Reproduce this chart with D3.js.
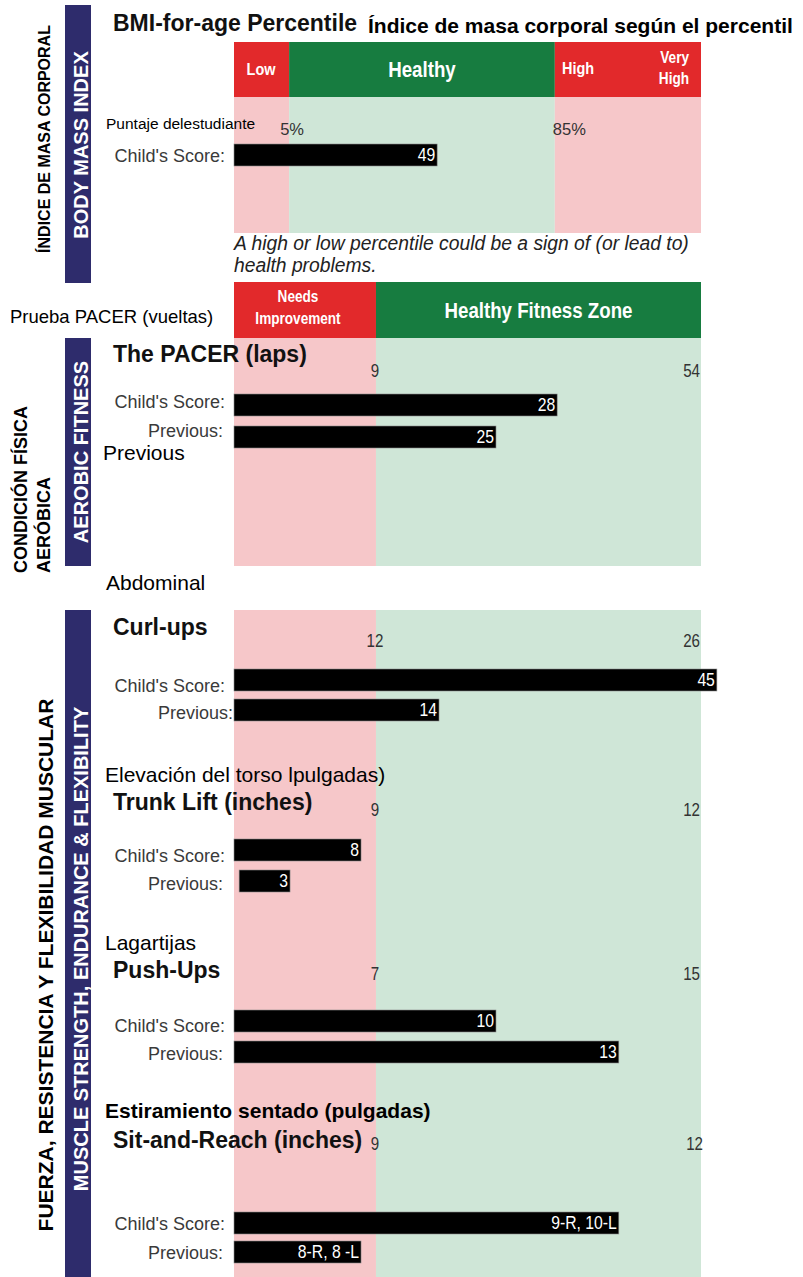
<!DOCTYPE html>
<html>
<head>
<meta charset="utf-8">
<title>Fitness report</title>
<script src="https://cdn.jsdelivr.net/npm/d3@7/dist/d3.min.js"></script>
<style>
body{margin:0;background:#fff;}
svg{display:block;font-family:"Liberation Sans",Arial,Helvetica,sans-serif;}
</style>
</head>
<body>
<script>
//BMI data
var bmiZones = ["Low", "Healthy", "High", "Very High"];
var bmiSplit = [0, 11.8, 68.7, 100];          //zone edges on the report track (0-100)
var bmiCuts = ["5%", "85%"];
var bmiScore = "49";
var bmiBar = 43.5;

//Fitness tests
var fitZones = ["Needs Improvement", "Healthy Fitness Zone"];
var fitSplit = [0, 30.4, 100];
var tests = ["The PACER (laps)", "Curl-ups", "Trunk Lift (inches)", "Push-Ups", "Sit-and-Reach (inches)"];
var testsEs = ["Prueba PACER (vueltas)", "Abdominal", "Elevación del torso lpulgadas)", "Lagartijas", "Estiramiento sentado (pulgadas)"];
var lowCut = ["9", "12", "9", "7", "9"];
var highCut = ["54", "26", "12", "15", "12"];
var childScore = ["28", "45", "8", "10", "9-R, 10-L"];
var prevScore = ["25", "14", "3", "13", "8-R, 8 -L"];
//bar extents as drawn on the track
var childBar = [69.2, 103.4, 27.2, 56.1, 82.4];
var prevFrom = [0, 0, 1.1, 0, 0];
var prevBar = [56.1, 43.9, 12.0, 82.4, 27.2];

var red = "#e2292b", green = "#177c40", pink = "#f6c7c9", mint = "#cfe6d7", navy = "#2e2c6c";

var svg = d3.select("body").append("svg")
    .attr("width", 803)
    .attr("height", 1277);

//report track scale
var x = d3.scaleLinear().domain([0, 100]).range([234, 701]);

//helpers
function vtext(px, py, txt, size, fill, anchor) {
  return svg.append("text")
    .attr("transform", "translate(" + px + "," + py + ") rotate(-90)")
    .attr("text-anchor", anchor)
    .attr("font-size", size)
    .attr("font-weight", "bold")
    .attr("fill", fill)
    .text(txt);
}
function narrow(px, py, txt, size, anchor, fill, weight, sx) {
  svg.append("text")
    .attr("transform", "translate(" + px + "," + py + ") scale(" + (sx || 0.85) + ",1)")
    .attr("text-anchor", anchor)
    .attr("font-size", size)
    .attr("font-weight", weight || "bold")
    .attr("fill", fill || "#fff")
    .text(txt);
}
function plain(px, py, txt, size, opts) {
  opts = opts || {};
  return svg.append("text")
    .attr("x", px).attr("y", py)
    .attr("font-size", size)
    .attr("font-weight", opts.bold ? "bold" : "normal")
    .attr("font-style", opts.italic ? "italic" : "normal")
    .attr("text-anchor", opts.anchor || "start")
    .attr("fill", opts.fill || "#000")
    .text(txt);
}
function zoneBands(split, colors, y0, y1) {
  svg.append("g").selectAll("rect")
    .data(d3.pairs(split))
    .enter().append("rect")
      .attr("x", function(d) { return x(d[0]); })
      .attr("width", function(d) { return x(d[1]) - x(d[0]); })
      .attr("y", y0)
      .attr("height", y1 - y0)
      .style("fill", function(d, i) { return colors[i]; });
}
function bar(from, to, top, label) {
  svg.append("rect")
    .attr("x", x(from)).attr("y", top)
    .attr("width", x(to) - x(from)).attr("height", 22)
    .style("fill", "#000").style("stroke", "#8a8a8a").style("stroke-width", 0.6);
  narrow(x(to) - 2, top + 17, label, 17.5, "end", "#fff", "normal", 0.9);
}

//Navy side bars
[[5, 283], [338, 566], [610, 1277]].forEach(function(b) {
  svg.append("rect").attr("x", 65).attr("y", b[0]).attr("width", 26).attr("height", b[1] - b[0])
    .style("fill", navy);
});
vtext(88, 145, "BODY MASS INDEX", 20, "#fff", "middle");
vtext(88, 452, "AEROBIC FITNESS", 20, "#fff", "middle");
vtext(88, 949, "MUSCLE STRENGTH, ENDURANCE & FLEXIBILITY", 20, "#fff", "middle");
vtext(50, 139, "ÍNDICE DE MASA CORPORAL", 16, "#000", "middle");
vtext(27, 573, "CONDICIÓN FÍSICA", 18, "#000", "start");
vtext(50, 573, "AERÓBICA", 18, "#000", "start");
vtext(53, 965, "FUERZA, RESISTENCIA Y FLEXIBILIDAD MUSCULAR", 21, "#000", "middle");

//---- BMI block ----
plain(113, 31, "BMI-for-age Percentile", 23, {bold: true, fill: "#111"});
plain(368, 33, "Índice de masa corporal según el percentil", 21, {bold: true});
zoneBands(bmiSplit, [red, green, red], 42, 97);
zoneBands(bmiSplit, [pink, mint, pink], 97, 233);
narrow(261, 75, bmiZones[0], 17, "middle");
narrow((x(bmiSplit[1]) + x(bmiSplit[2])) / 2, 77, bmiZones[1], 22, "middle");
narrow(562, 74, bmiZones[2], 17, "start");
narrow(689, 63, bmiZones[3].split(" ")[0], 16, "end");
narrow(689, 84, bmiZones[3].split(" ")[1], 16, "end");
plain(106, 129, "Puntaje delestudiante", 15.5);
plain(x(bmiSplit[1]) + 3, 135, bmiCuts[0], 16.5, {anchor: "middle", fill: "#333"});
plain(x(bmiSplit[2]) - 2, 135, bmiCuts[1], 16.5, {fill: "#333"});
plain(225, 162, "Child's Score:", 18, {anchor: "end", fill: "#3a3a3a"});
bar(0, bmiBar, 144, bmiScore);
plain(234, 250, "A high or low percentile could be a sign of (or lead to)", 19.3, {italic: true, fill: "#222"});
plain(234, 272, "health problems.", 19.3, {italic: true, fill: "#222"});

//---- Fitness zone header ----
zoneBands(fitSplit, [red, green], 282, 338);
narrow(298, 302, fitZones[0].split(" ")[0], 16, "middle");
narrow(298, 324, fitZones[0].split(" ")[1], 16, "middle");
narrow((x(fitSplit[1]) + x(fitSplit[2])) / 2, 318, fitZones[1], 22, "middle");
plain(392, 348, "*", 15);

//backgrounds for aerobic and muscle sections
zoneBands(fitSplit, [pink, mint], 338, 566);
zoneBands(fitSplit, [pink, mint], 610, 1277);

//row layout
var titleY = [362, 635, 810, 978, 1148];
var cutY = [377, 647, 816, 980, 1150];
var childTop = [394, 669, 839, 1010, 1212];
var prevTop = [426, 699, 870, 1041, 1241];
var childLabY = [408, 692, 862, 1032, 1230];
var prevLabY = [437, 719, 890, 1060, 1259];
var prevLabX = [223, 233, 223, 223, 223];
var esPos = [[10, 323, 18.5], [106, 590, 21], [105, 782, 21], [105, 950, 21], [105, 1118, 21]];

tests.forEach(function(t, i) {
  plain(esPos[i][0], esPos[i][1], testsEs[i], esPos[i][2], {bold: i === 4});
  plain(113, titleY[i], t, 23, {bold: true, fill: "#111"});
  narrow(x(fitSplit[1]) - 1, cutY[i], lowCut[i], 18.5, "middle", "#333", "normal", 0.82);
  narrow(i === 4 ? 703 : 700, cutY[i], highCut[i], 18.5, "end", "#333", "normal", 0.82);
  bar(0, childBar[i], childTop[i], childScore[i]);
  bar(prevFrom[i], prevBar[i], prevTop[i], prevScore[i]);
  plain(225, childLabY[i], "Child's Score:", 18, {anchor: "end", fill: "#3a3a3a"});
  plain(prevLabX[i], prevLabY[i], "Previous:", 18, {anchor: "end", fill: "#3a3a3a"});
});

//extra overlay under the PACER rows
plain(103, 460, "Previous", 21);
</script>
</body>
</html>
